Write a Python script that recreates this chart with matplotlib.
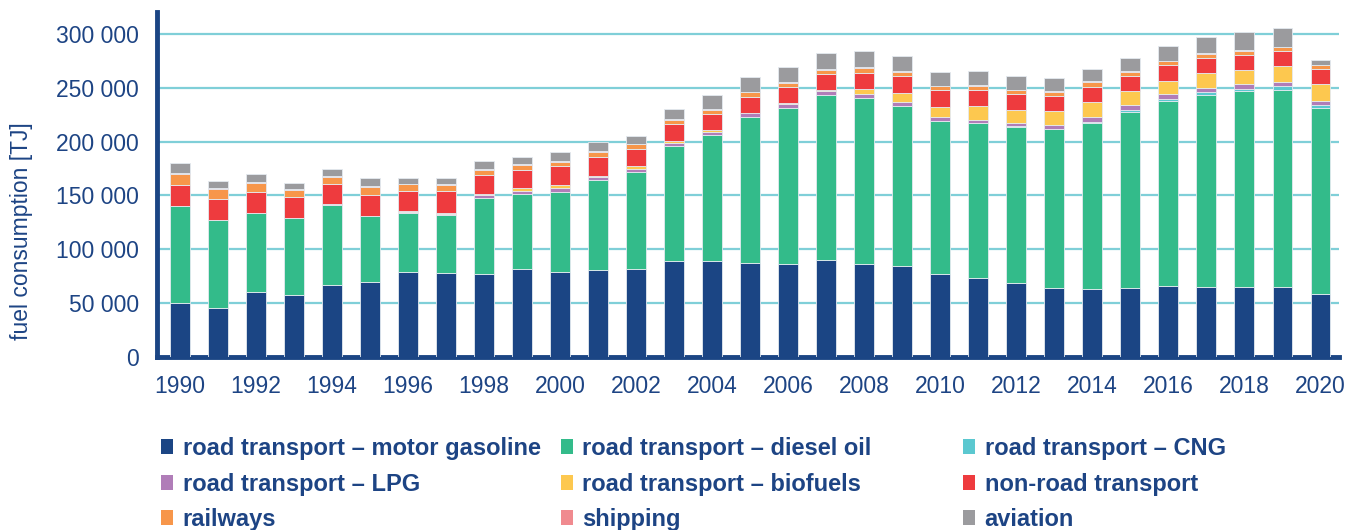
import numpy as np
import matplotlib
matplotlib.use('Agg')
import matplotlib.pyplot as plt
from matplotlib.patches import Patch

plt.rcParams['font.family'] = ['Liberation Sans', 'DejaVu Sans']

years = list(range(1990, 2021))

# values in TJ (thousands)
gasoline = [50, 46, 60.5, 57.5, 67, 69.7, 79, 78, 77.5, 81.8, 79, 80.8, 81.8, 89.5, 89.5, 87.5,
            86.4, 90.1, 86.8, 84.5, 76.9, 73.8, 68.5, 64.2, 63.3, 64.2, 66, 65.1, 65.1, 65.1, 59]
diesel = [90, 81.5, 73, 71.5, 74.4, 61.1, 55, 54, 70.4, 69.7, 74.4, 83.1, 90.1, 106.2, 116.3, 135.7,
          144.4, 153.1, 153.3, 148.8, 142.0, 143.0, 145.0, 147.3, 153.8, 163.6, 171.3, 177.8, 181.5, 183.0, 171.8]
cng = [0]*20 + [0.5, 0.5, 0.5, 0.5, 0.8, 1.5, 1.9, 3.1, 2.2, 3.5, 3.1]
lpg = [0.2, 0.2, 0.2, 0.3, 0.4, 0.5, 0.6, 0.6, 2.1, 3.1, 3.1, 2.8, 2.5, 2.8, 2.8, 3.3,
       3.7, 3.4, 4.1, 3.7, 3.2, 2.9, 3.2, 3.7, 5.2, 5.0, 4.6, 4.0, 4.3, 3.3, 3.4]
biofuels = [0, 0, 0, 0, 0, 0, 1.0, 1.2, 1.5, 1.9, 2.8, 1.8, 2.7, 2.4, 1.9, 0.3,
            1.6, 1.5, 4.6, 8.4, 9.6, 12.6, 11.7, 12.3, 13.6, 12.3, 12.7, 13.6, 13.3, 14.8, 16.1]
nonroad = [19.5, 19.4, 19.5, 19.3, 18.7, 19.3, 18.4, 20.2, 17.3, 17.3, 17.8, 17.0, 15.8, 15.5, 14.7, 14.9,
           14.2, 14.2, 15.1, 15.1, 15.2, 15.2, 14.9, 14.7, 14.2, 13.9, 14.1, 13.5, 13.5, 13.9, 13.5]
railways = [10.5, 9.3, 8.6, 6.9, 6.5, 7.1, 6.2, 6.0, 5.0, 4.6, 4.4, 5.0, 4.6, 4.0, 4.3, 4.0,
            4.0, 4.4, 4.3, 4.0, 3.7, 3.6, 3.7, 3.5, 4.4, 4.0, 3.7, 4.1, 4.1, 3.7, 3.7]
shipping = [0.8]*6 + [0.6]*18 + [0.5]*6 + [0.4]
aviation = [9.5, 6.3, 7.2, 5.6, 7.2, 7.5, 5.6, 5.8, 8.0, 7.1, 8.0, 8.3, 6.8, 9.3, 12.7, 13.3,
            13.9, 14.8, 15.5, 13.9, 12.9, 13.0, 12.3, 11.8, 11.8, 12.1, 13.4, 15.2, 17.3, 17.8, 4.9]

series = [gasoline, diesel, cng, lpg, biofuels, nonroad, railways, shipping, aviation]
labels = ['road transport – motor gasoline', 'road transport – diesel oil', 'road transport – CNG',
          'road transport – LPG', 'road transport – biofuels', 'non-road transport',
          'railways', 'shipping', 'aviation']
colors = ['#1B4584', '#33BB8A', '#5BC8D0', '#B07DB8', '#FDC84F', '#EE3B3E',
          '#F7964A', '#F08A8F', '#9B9B9E']

txt = '#1D4484'

fig = plt.figure(figsize=(13.64, 5.30), dpi=100)
ax = fig.add_axes([0.115, 0.326, 0.867, 0.651])

bottom = np.zeros(len(years))
for s, c in zip(series, colors):
    v = np.array(s) * 1000
    ax.bar(years, v, width=0.52, bottom=bottom, color=c, edgecolor='#e4eaf0', linewidth=0.6, zorder=3)
    bottom += v

ax.set_xlim(1989.4, 2020.5)
ax.set_ylim(0, 320000)
ax.set_yticks(range(0, 300001, 50000))
ax.set_yticklabels(['0' if t == 0 else '{:,}'.format(t).replace(',', ' ') for t in range(0, 300001, 50000)])
ax.set_xticks(range(1990, 2021, 2))
ax.yaxis.grid(True, color='#7FCFD8', linewidth=1.6, zorder=0)
ax.set_axisbelow(True)
ax.tick_params(axis='both', length=0, colors=txt)
ax.tick_params(axis='y', labelsize=16.5, pad=13)
ax.tick_params(axis='x', labelsize=16.5, pad=13)
for sp in ['top', 'right']:
    ax.spines[sp].set_visible(False)
for sp in ['left', 'bottom']:
    ax.spines[sp].set_color('#1B4584')
    ax.spines[sp].set_linewidth(3.5)
ax.set_ylabel('fuel consumption [TJ]', fontsize=16.5, color=txt)
ax.yaxis.set_label_coords(-0.105, 0.365)

xs = [0.118, 0.411, 0.706]
for col in range(3):
    idx = [col, col + 3, col + 6]
    handles = [Patch(facecolor=colors[i], edgecolor='none') for i in idx]
    leg = fig.legend(handles, [labels[i] for i in idx], loc='upper left',
                     bbox_to_anchor=(xs[col], 0.175), frameon=False,
                     prop={'weight': 'bold', 'size': 17}, handlelength=0.52,
                     handleheight=0.6, handletextpad=0.4, labelspacing=0.53,
                     borderpad=0, borderaxespad=0)
    for t in leg.get_texts():
        t.set_color(txt)

fig.savefig('out.png', dpi=100)
